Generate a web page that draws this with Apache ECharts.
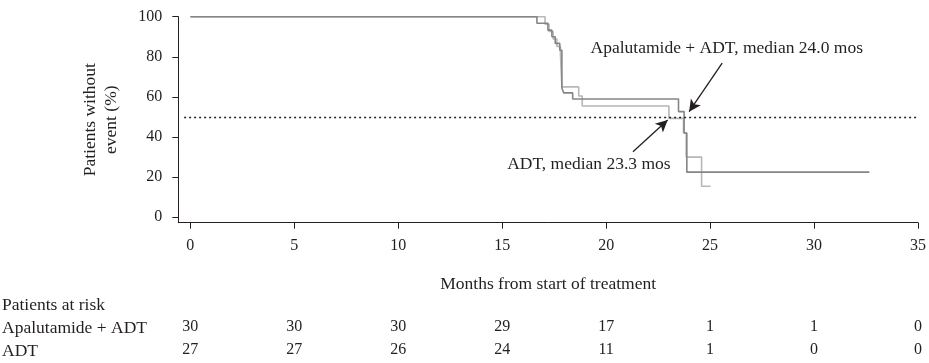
<!DOCTYPE html>
<html>
<head>
<meta charset="utf-8">
<script src="https://cdn.jsdelivr.net/npm/echarts@6/dist/echarts.min.js"></script>
<style>
  html, body { margin: 0; padding: 0; background: #fff; }
  #chart { width: 929px; height: 363px; }
</style>
</head>
<body>
<div id="chart"></div>
<script>
// Kaplan-Meier style survival curves (time in months, % without event)
const apaTimes = [0, 16.67, 17.2, 17.39, 17.55, 17.77, 17.87, 17.96, 18.39, 23.48, 23.75, 23.88, 32.66];
const apaSurv  = [100, 96.7, 93.3, 90, 86.7, 83.3, 64.5, 62, 59, 52.7, 42, 22.5, 22.5];

const adtTimes = [0, 17.06, 17.25, 17.45, 17.63, 17.8, 17.87, 18.68, 18.85, 23.02, 23.72, 23.85, 24.59, 25.02];
const adtSurv  = [100, 96.3, 92.6, 88.9, 85.2, 81.5, 65, 60.5, 55.5, 49.3, 42, 30, 15.5, 15.5];

// Axis ticks
const xTicks = [0, 5, 10, 15, 20, 25, 30, 35];
const yTicks = [0, 20, 40, 60, 80, 100];

// Numbers at risk at each x tick
const riskApa = [30, 30, 30, 29, 17, 1, 1, 0];
const riskAdt = [27, 27, 26, 24, 11, 1, 0, 0];

// Median annotations: [text, label start, arrow tail, arrow head]
const medianApa = ['Apalutamide + ADT, median 24.0 mos', [19.25, 84], [25.58, 76.85], [23.99, 52.65]];
const medianAdt = ['ADT, median 23.3 mos', [15.24, 26.5], [21.29, 32.65], [22.96, 48.5]];

const FONT = 'Liberation Serif';
const TEXT_COLOR = '#231f20';
const NUM_SIZE = 16;
const WORD_SIZE = 17.5;

const chart = echarts.init(document.getElementById('chart'), null, { renderer: 'canvas' });

function riskAxis(values, offset) {
  return {
    type: 'value', gridIndex: 0, position: 'bottom', offset: offset,
    min: -0.58, max: 35,
    axisLine: { show: false, onZero: false }, axisTick: { show: false }, splitLine: { show: false },
    axisLabel: {
      customValues: xTicks, margin: 15,
      fontFamily: FONT, fontSize: NUM_SIZE, color: TEXT_COLOR,
      formatter: v => String(values[xTicks.indexOf(v)])
    }
  };
}

const option = {
  animation: false,
  backgroundColor: '#ffffff',
  textStyle: { fontFamily: FONT },
  grid: { left: 178.3, top: 16.7, right: 5, bottom: 140.3, containLabel: false },
  xAxis: [
    {
      type: 'value', gridIndex: 0, position: 'bottom',
      min: -0.58, max: 35,
      name: 'Months from start of treatment',
      nameLocation: 'middle', nameGap: 53,
      nameTextStyle: { fontFamily: FONT, fontSize: WORD_SIZE, color: TEXT_COLOR },
      axisLine: { show: true, onZero: false, lineStyle: { color: '#231f20', width: 1 } },
      axisTick: { show: true, customValues: xTicks, length: 6, lineStyle: { color: '#231f20' } },
      axisLabel: { customValues: xTicks, margin: 15, fontFamily: FONT, fontSize: NUM_SIZE, color: TEXT_COLOR },
      splitLine: { show: false }
    },
    riskAxis(riskApa, 81),
    riskAxis(riskAdt, 104)
  ],
  yAxis: {
    type: 'value', min: -2.7, max: 100,
    name: 'Patients without\nevent (%)',
    nameLocation: 'middle', nameGap: 56, nameRotate: 90,
    nameTextStyle: { fontFamily: FONT, fontSize: WORD_SIZE, color: TEXT_COLOR, lineHeight: 21, align: 'center' },
    axisLine: { show: true, onZero: false, lineStyle: { color: '#231f20', width: 1 } },
    axisTick: { show: true, customValues: yTicks, length: 6, lineStyle: { color: '#231f20' } },
    axisLabel: { customValues: yTicks, margin: 16, fontFamily: FONT, fontSize: NUM_SIZE, color: TEXT_COLOR },
    splitLine: { show: false }
  },
  series: [
    {
      name: 'ADT', type: 'line', step: 'end', symbol: 'none',
      data: adtTimes.map((t, i) => [t, adtSurv[i]]),
      lineStyle: { color: '#b7b7b7', width: 1.6 }, z: 2
    },
    {
      name: 'Apalutamide + ADT', type: 'line', step: 'end', symbol: 'none',
      data: apaTimes.map((t, i) => [t, apaSurv[i]]),
      lineStyle: { color: '#858585', width: 1.6 }, z: 3,
      markLine: {
        silent: true, animation: false,
        label: { show: false },
        data: [
          [
            { coord: [-0.3, 50], symbol: 'none', lineStyle: { color: '#231f20', type: [2, 3], width: 1.3 } },
            { coord: [35, 50], symbol: 'none' }
          ],
          [
            { coord: medianApa[2], symbol: 'none', lineStyle: { color: '#231f20', type: 'solid', width: 1.3 } },
            { coord: medianApa[3], symbol: 'arrow', symbolSize: [9, 12] }
          ],
          [
            { coord: medianAdt[2], symbol: 'none', lineStyle: { color: '#231f20', type: 'solid', width: 1.3 } },
            { coord: medianAdt[3], symbol: 'arrow', symbolSize: [9, 12] }
          ]
        ]
      },
      markPoint: {
        silent: true, animation: false,
        symbol: 'circle', symbolSize: 0,
        label: { show: true, position: 'right', distance: 0, fontFamily: FONT, fontSize: WORD_SIZE, color: TEXT_COLOR },
        data: [
          { coord: medianApa[1], value: medianApa[0], label: { formatter: medianApa[0] } },
          { coord: medianAdt[1], value: medianAdt[0], label: { formatter: medianAdt[0] } }
        ]
      }
    }
  ],
  graphic: [
    { type: 'text', left: 2, top: 296, style: { text: 'Patients at risk', font: WORD_SIZE + 'px ' + FONT, fill: TEXT_COLOR } },
    { type: 'text', left: 2, top: 319, style: { text: 'Apalutamide + ADT', font: WORD_SIZE + 'px ' + FONT, fill: TEXT_COLOR } },
    { type: 'text', left: 2, top: 342, style: { text: 'ADT', font: WORD_SIZE + 'px ' + FONT, fill: TEXT_COLOR } }
  ]
};

chart.setOption(option);
</script>
</body>
</html>
